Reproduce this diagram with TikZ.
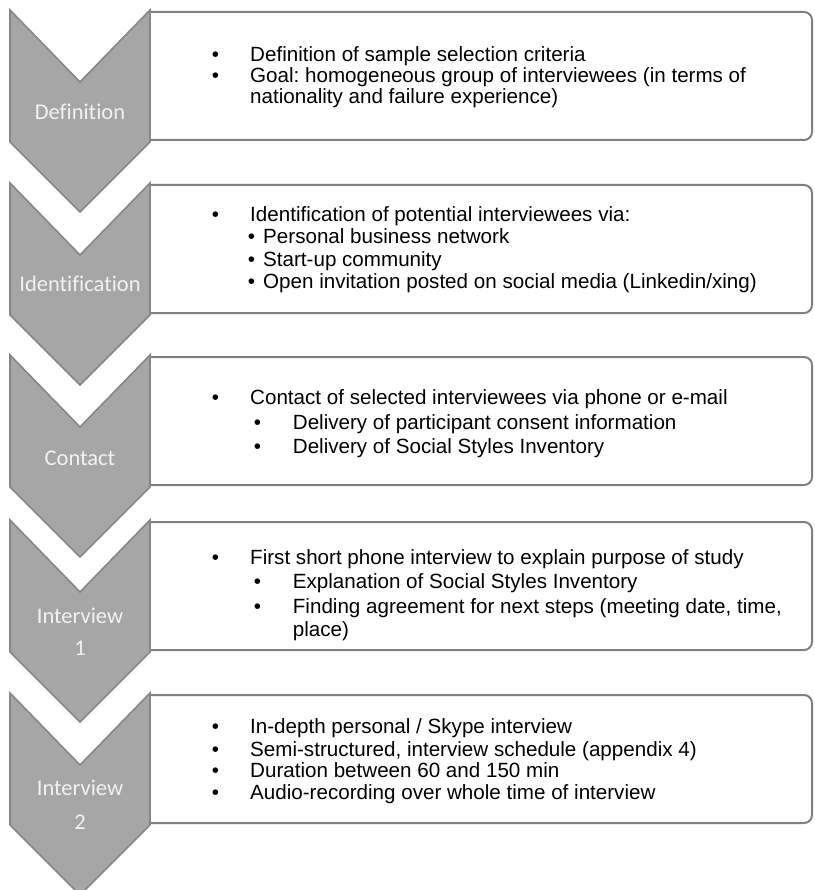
\documentclass[tikz,border=0pt]{standalone}
\usepackage{fontspec}
\setmainfont{Liberation Sans}
\newfontfamily\labelfont[Ligatures={NoCommon}]{Carlito}
\frenchspacing
\definecolor{chevfill}{RGB}{166,166,166}
\definecolor{chevline}{RGB}{135,135,135}
\definecolor{boxline}{RGB}{128,128,128}
\definecolor{labeltext}{RGB}{242,242,242}
\tikzset{
  chevshape/.style={fill=chevfill, draw=chevline, line width=1.6pt, line join=miter},
  boxedge/.style={draw=boxline, line width=2pt, rounded corners=8pt},
  steplabel/.style={font=\labelfont\fontsize{22.5}{26}\selectfont, text=labeltext, inner sep=0pt, anchor=base},
  bodytext/.style={font=\fontsize{20.6}{24}\selectfont, inner sep=0pt, anchor=base west},
  bul/.style={font=\fontsize{20.6}{24}\selectfont, inner sep=0pt, anchor=base},
}
% one process step: chevron at top T, text panel beside it
\newcommand{\stepframe}[1]{%
  \fill[white] (150,#1+2) rectangle (812,#1+130);
  \draw[boxedge] (150,#1+2) -- (812,#1+2) -- (812,#1+130) -- (150,#1+130);
  \draw[chevshape] (10,#1) -- (80,#1+72) -- (150,#1) -- (150,#1+132) -- (80,#1+202) -- (10,#1+132) -- cycle;
}
\begin{document}
\begin{tikzpicture}[x=1pt,y=-1pt]
\clip (0,0) rectangle (814,890);
\fill[white] (0,0) rectangle (814,890);

% step frames
\stepframe{10}
\stepframe{183}
\stepframe{355}
\stepframe{520}
\stepframe{693}

% step labels
\node[steplabel] (l1) at (80,119.5) {Definition};
\node[steplabel] (l2) at (80,291.5) {Identification};
\node[steplabel] (l3) at (80,465) {Contact};
\node[steplabel] (l4a) at (80,623.5) {Interview};
\node[steplabel] (l4b) at (80,655) {1};
\node[steplabel] (l5a) at (80,795) {Interview};
\node[steplabel] (l5b) at (80,829) {2};

% Definition
\node[bul] (b11) at (215.5,62) {•};
\node[bodytext] (t11) at (250,62) {Definition of sample selection criteria};
\node[bul] (b12) at (215.5,83) {•};
\node[bodytext] (t12) at (250,83) {Goal: homogeneous group of interviewees (in terms of};
\node[bodytext] (t13) at (250,104) {nationality and failure experience)};

% Identification
\node[bul] (b21) at (215.5,222) {•};
\node[bodytext] (t21) at (250,222) {Identification of potential interviewees via:};
\node[bul] (b22) at (251.5,244) {•};
\node[bodytext] (t22) at (263,244) {Personal business network};
\node[bul] (b23) at (251.5,266) {•};
\node[bodytext] (t23) at (263,266) {Start-up community};
\node[bul] (b24) at (251.5,288) {•};
\node[bodytext] (t24) at (263,288) {Open invitation posted on social media (Linkedin/xing)};

% Contact
\node[bul] (b31) at (215.5,404) {•};
\node[bodytext] (t31) at (250,404) {Contact of selected interviewees via phone or e-mail};
\node[bul] (b32) at (257.5,429) {•};
\node[bodytext] (t32) at (292.7,429) {Delivery of participant consent information};
\node[bul] (b33) at (257.5,453) {•};
\node[bodytext] (t33) at (292.7,453) {Delivery of Social Styles Inventory};

% Interview 1
\node[bul] (b41) at (215.5,564) {•};
\node[bodytext] (t41) at (250,564) {First short phone interview to explain purpose of study};
\node[bul] (b42) at (257.5,588) {•};
\node[bodytext] (t42) at (292.7,588) {Explanation of Social Styles Inventory};
\node[bul] (b43) at (257.5,613) {•};
\node[bodytext] (t43) at (292.7,613) {Finding agreement for next steps (meeting date, time,};
\node[bodytext] (t44) at (292.7,636) {place)};

% Interview 2
\node[bul] (b51) at (215.5,733) {•};
\node[bodytext] (t51) at (250,733) {In-depth personal / Skype interview};
\node[bul] (b52) at (215.5,756) {•};
\node[bodytext] (t52) at (250,756) {Semi-structured, interview schedule (appendix 4)};
\node[bul] (b53) at (215.5,777) {•};
\node[bodytext] (t53) at (250,777) {Duration between 60 and 150 min};
\node[bul] (b54) at (215.5,799) {•};
\node[bodytext] (t54) at (250,799) {Audio-recording over whole time of interview};
\end{tikzpicture}
\end{document}
